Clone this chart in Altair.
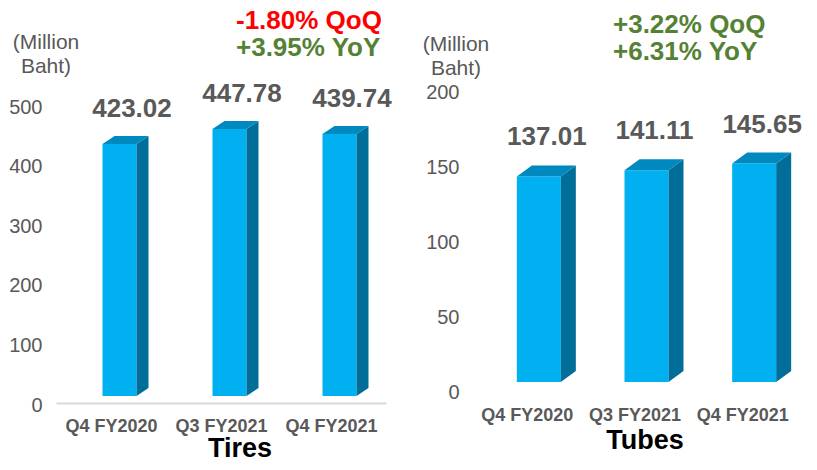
import json
import altair as alt
import pandas as pd

# ---------------- data ----------------
categories = ["Q4 FY2020", "Q3 FY2021", "Q4 FY2021"]
tires_values = [423.02, 447.78, 439.74]
tubes_values = [137.01, 141.11, 145.65]
tires_ticks = [0, 100, 200, 300, 400, 500]
tubes_ticks = [0, 50, 100, 150, 200]
tires_change = ["-1.80% QoQ", "+3.95% YoY"]
tubes_change = ["+3.22% QoQ", "+6.31% YoY"]
tires_change_colors = ["#FF0000", "#548235"]
tubes_change_colors = ["#548235", "#548235"]
panel_titles = ["Tires", "Tubes"]
unit_label = ["(Million", "Baht)"]

FONT = "Liberation Sans"
FRONT = "#00B0F0"
CAP = "#0089BF"
SIDE = "#006E98"
GRAY = "#595959"


def note(text, color, x, y, size, weight="bold", align="center", line_height=None):
    kw = dict(font=FONT, fontSize=size, fontWeight=weight, align=align,
              baseline="middle", color=color)
    if line_height:
        kw["lineHeight"] = line_height
    return alt.Chart(alt.Data(values=[{"k": 0}])).mark_text(**kw).encode(
        x=alt.value(x), y=alt.value(y), text=alt.value(text))


def panel(values, ticks, width, height, px_per_unit, front_l, front_r,
          depth_x, depth_y, label_dx, label_dy, ytick_shift, xaxis_offset,
          show_base, changes, change_colors, change_x, change_y,
          unit_x, unit_y, title, title_x, title_y):
    n = len(categories)
    px_x = width / n
    ymax = height / px_per_unit
    dxu = depth_x / px_x
    dyu = depth_y / px_per_unit

    front_rows, side_rows, cap_rows, lab_rows = [], [], [], []
    for i, v in enumerate(values):
        c = i + 0.5
        xl = c + front_l / px_x
        xr = c + front_r / px_x
        front_rows.append({"bar": i, "x": xl, "x2": xr, "y": v, "y2": 0})
        for t in (0, 1):
            side_rows.append({"bar": i, "x": xr + t * dxu,
                              "top": v + t * dyu, "bottom": t * dyu})
            cap_rows.append({"bar": i, "y": v + t * dyu,
                             "xa": xl + t * dxu, "xb": xr + t * dxu})
        lab_rows.append({"x": c, "y": v, "label": f"{v:.2f}"})

    xs = alt.Scale(domain=[0, n], nice=False, zero=False)
    ys = alt.Scale(domain=[0, ymax], nice=False, zero=False)
    label_expr = json.dumps(categories) + "[floor(datum.value)]"

    xaxis = alt.Axis(values=[i + 0.5 for i in range(n)], labelExpr=label_expr,
                     offset=xaxis_offset, labelPadding=14, labelFontSize=18,
                     labelFontWeight="bold", labelColor=GRAY, labelFont=FONT,
                     domain=show_base, domainColor="#D9D9D9", domainWidth=2,
                     ticks=False, grid=False, title=None)
    yaxis = alt.Axis(values=ticks, labelOffset=ytick_shift, labelPadding=14,
                     labelFontSize=20, labelColor=GRAY, labelFont=FONT,
                     domain=False, ticks=False, grid=False,
                     title=None)

    front = alt.Chart(pd.DataFrame(front_rows)).mark_rect(color=FRONT).encode(
        x=alt.X("x:Q", scale=xs, axis=xaxis),
        x2="x2:Q",
        y=alt.Y("y:Q", scale=ys, axis=yaxis),
        y2="y2:Q",
    )
    side = alt.Chart(pd.DataFrame(side_rows)).mark_area(color=SIDE).encode(
        x=alt.X("x:Q", scale=xs, axis=xaxis),
        y=alt.Y("top:Q", scale=ys, axis=yaxis),
        y2="bottom:Q",
        detail="bar:N",
    )
    cap = alt.Chart(pd.DataFrame(cap_rows)).mark_area(color=CAP).encode(
        y=alt.Y("y:Q", scale=ys, axis=yaxis),
        x=alt.X("xa:Q", scale=xs, axis=xaxis),
        x2="xb:Q",
        detail="bar:N",
    )
    labels = alt.Chart(pd.DataFrame(lab_rows)).mark_text(
        font=FONT, fontSize=26, fontWeight="bold", color=GRAY,
        baseline="middle", align="center", dx=label_dx, dy=label_dy).encode(
        x=alt.X("x:Q", scale=xs, axis=xaxis),
        y=alt.Y("y:Q", scale=ys, axis=yaxis),
        text="label:N",
    )
    layers = [front, side, cap, labels,
              note(changes[0], change_colors[0], change_x, change_y[0], 26, align="left"),
              note(changes[1], change_colors[1], change_x, change_y[1], 26, align="left"),
              note(unit_label, GRAY, unit_x, unit_y, 21, weight="normal", line_height=24),
              note(title, "#000000", title_x, title_y, 27)]
    return alt.layer(*layers).properties(width=width, height=height)


left = panel(tires_values, tires_ticks, width=330, height=314,
             px_per_unit=298 / 500, front_l=-8.5, front_r=25.5,
             depth_x=12, depth_y=8, label_dx=21, label_dy=-35,
             ytick_shift=9, xaxis_offset=7, show_base=True,
             changes=tires_change, change_colors=tires_change_colors,
             change_x=180, change_y=[-61, -34], unit_x=-10, unit_y=-39,
             title=panel_titles[0], title_x=184, title_y=367)

right = panel(tubes_values, tubes_ticks, width=323, height=300,
              px_per_unit=1.5, front_l=-10, front_r=34,
              depth_x=15, depth_y=11, label_dx=20, label_dy=-39,
              ytick_shift=10, xaxis_offset=10, show_base=False,
              changes=tubes_change, change_colors=tubes_change_colors,
              change_x=140, change_y=[-57, -30], unit_x=-17, unit_y=-37,
              title=panel_titles[1], title_x=172, title_y=359)

chart = alt.hconcat(left, right, spacing=87, bounds="flush").properties(
    padding={"left": 0, "top": 0, "right": 0, "bottom": -3}
).configure_view(stroke=None)

chart.save("out.html", embed_options={"renderer": "svg", "actions": False})
